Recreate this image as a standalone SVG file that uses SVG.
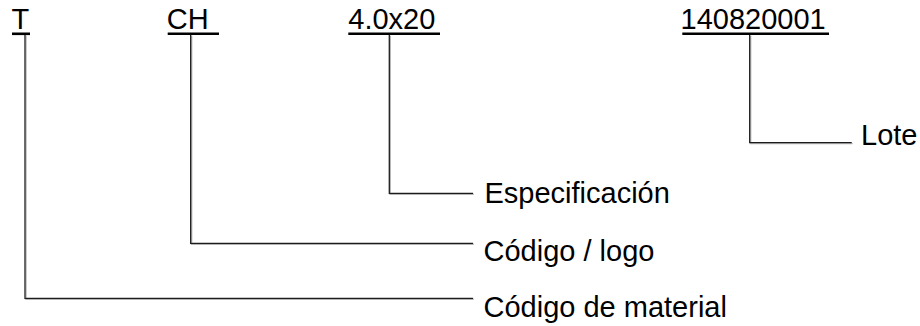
<svg xmlns="http://www.w3.org/2000/svg" width="920" height="326" viewBox="0 0 920 326">
  <defs>
    <style>
      .t { font-family: "Liberation Sans", Arial, sans-serif; font-size: 29px; fill: #000; }
      .ul { stroke: #000; stroke-width: 2.6; fill: none; }
      .c { stroke: #1a1a1a; stroke-width: 1.3; fill: none; }
    </style>
    <filter id="sh" x="-5%" y="-5%" width="110%" height="110%">
      <feDropShadow dx="0.8" dy="0.8" stdDeviation="0.3" flood-color="#888" flood-opacity="0.8"/>
    </filter>
  </defs>
  <rect width="920" height="326" fill="#fff"/>

  <g id="connectors" filter="url(#sh)">
    <path class="c" d="M25 35 V298.3 H473"/>
    <path class="c" d="M190.7 35 V243.3 H473"/>
    <path class="c" d="M389.3 35 V193.3 H473"/>
    <path class="c" d="M749.7 35 V142.6 H851.7"/>
  </g>

  <g id="code-T">
    <text class="t" x="11.5" y="29">T</text>
    <line class="ul" x1="12" y1="33.8" x2="30" y2="33.8"/>
  </g>
  <g id="code-CH">
    <text class="t" x="166.8" y="29">CH</text>
    <line class="ul" x1="167.7" y1="33.8" x2="219" y2="33.8"/>
  </g>
  <g id="code-spec">
    <text class="t" x="348.3" y="29">4.0x20</text>
    <line class="ul" x1="348.3" y1="33.8" x2="440" y2="33.8"/>
  </g>
  <g id="code-lot">
    <text class="t" x="680.5" y="29">140820001</text>
    <line class="ul" x1="682.3" y1="33.8" x2="829" y2="33.8"/>
  </g>

  <g id="label-lote">
    <text class="t" x="861" y="144.5">Lote</text>
  </g>
  <g id="label-especificacion">
    <text class="t" x="484.5" y="202.5">Especificación</text>
  </g>
  <g id="label-codigo-logo">
    <text class="t" x="483.5" y="260.5">Código / logo</text>
  </g>
  <g id="label-codigo-material">
    <text class="t" x="483.5" y="317">Código de material</text>
  </g>
</svg>
